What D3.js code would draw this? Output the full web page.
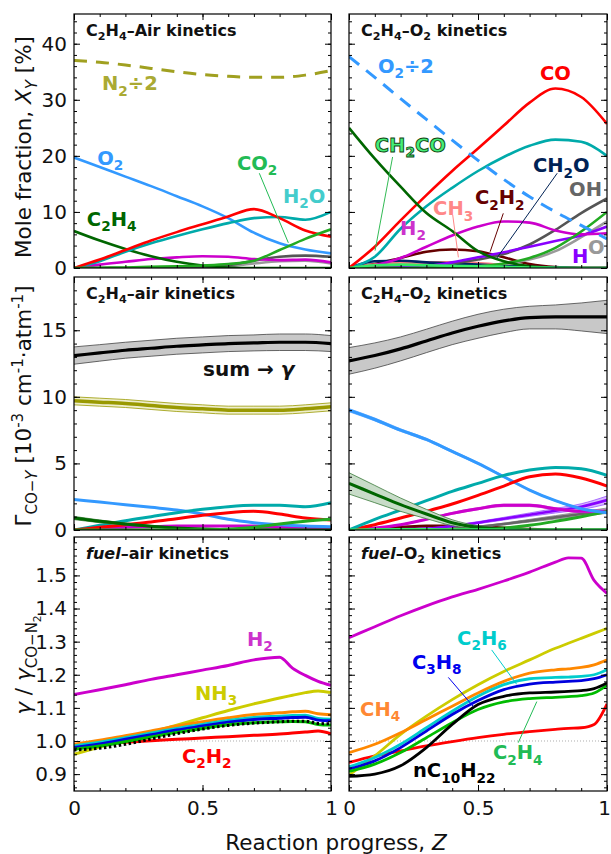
<!DOCTYPE html>
<html lang="en">
<head>
<meta charset="UTF-8">
<title>CO line broadening along reaction progress</title>
<script src="https://cdn.jsdelivr.net/npm/d3@7"></script>
<style>
  body { margin: 0; background: #fff; }
  svg { font-family: "DejaVu Sans", sans-serif; }
  text { white-space: pre; }
</style>
</head>
<body>
<script>
// reaction progress grids
const zGrid = [0, 0.1, 0.2, 0.3, 0.4, 0.5, 0.6, 0.7, 0.8, 0.9, 1];
const zRatio = [0, 0.1, 0.2, 0.3, 0.4, 0.5, 0.6, 0.7, 0.8, 0.85, 0.9, 0.95, 1];

// tick labels
const xTicks = [0, 0.5, 1];
const yTicksMole = [0, 10, 20, 30, 40];
const yTicksGamma = [0, 5, 10, 15];
const yTicksRatio = [0.9, 1.0, 1.1, 1.2, 1.3, 1.4, 1.5];

// mole fractions [%], C2H4-air
const airN2Half = [37.0, 36.7, 36.2, 35.6, 35.0, 34.5, 34.2, 34.0, 34.0, 34.4, 35.2];
const airO2 = [19.7, 18.0, 16.3, 14.6, 12.8, 11.0, 8.9, 6.3, 4.4, 3.3, 2.6];
const airCO = [0, 1.5, 3.2, 4.9, 6.4, 7.8, 9.2, 10.5, 8.9, 6.7, 5.6];
const airH2O = [0, 1.2, 2.9, 4.4, 5.7, 6.9, 8.0, 8.9, 9.1, 8.6, 10.0];
const airCO2 = [0, 0.05, 0.1, 0.2, 0.3, 0.45, 0.7, 1.3, 3.2, 5.2, 6.9];
const airC2H4 = [6.6, 4.9, 3.4, 2.1, 1.1, 0.45, 0.1, 0, 0, 0, 0];
const airH2 = [0, 0.6, 1.1, 1.6, 1.9, 2.1, 2.0, 1.6, 1.4, 1.5, 1.0];
const airOH = [0, 0, 0, 0.05, 0.1, 0.2, 0.5, 1.3, 2.0, 2.2, 2.0];
const airO = [0, 0, 0, 0, 0.05, 0.1, 0.3, 0.8, 1.2, 1.3, 0.8];

// mole fractions [%], C2H4-O2
const oxO2Half = [37.7, 34.0, 30.2, 26.5, 22.8, 19.2, 15.8, 12.7, 10.0, 7.6, 5.2];
const oxCO = [0, 3.8, 8.5, 13.0, 17.3, 21.3, 25.4, 29.5, 32.0, 30.5, 25.7];
const oxH2O = [0, 2.0, 7.0, 11.0, 14.3, 17.3, 19.8, 21.8, 22.9, 22.5, 20.0];
const oxC2H4 = [25.0, 19.5, 14.5, 9.8, 6.6, 3.0, 1.2, 0.3, 0, 0, 0];
const oxH2 = [0, 0.5, 1.8, 3.8, 5.8, 7.4, 8.3, 8.1, 6.7, 6.0, 6.2];
const oxC2H2 = [0, 0.7, 1.8, 2.9, 3.3, 3.0, 1.9, 0.7, 0.15, 0, 0];
const oxCH3 = [0, 0.6, 0.9, 1.0, 1.0, 0.9, 0.5, 0.2, 0.05, 0, 0];
const oxCH2O = [0, 1.2, 1.3, 1.0, 0.8, 0.6, 0.4, 0.2, 0.1, 0, 0];
const oxCH2CO = [0, 0.5, 0.6, 0.5, 0.4, 0.3, 0.2, 0.1, 0.05, 0, 0];
const oxOH = [0, 0.1, 0.2, 0.4, 0.8, 1.5, 2.5, 4.2, 6.8, 9.8, 12.4];
const oxH = [0, 0, 0.1, 0.3, 1.0, 1.9, 2.8, 3.8, 4.8, 5.8, 7.4];
const oxCO2 = [0, 0, 0, 0.05, 0.1, 0.3, 0.8, 1.8, 3.6, 6.5, 10.0];
const oxO = [0, 0, 0, 0.05, 0.1, 0.3, 0.7, 1.5, 3.0, 5.5, 8.3];

// broadening contributions [1e-3 cm-1 atm-1], C2H4-air
const gAirSum = [13.1, 13.3, 13.5, 13.65, 13.8, 13.9, 14.0, 14.05, 14.1, 14.1, 14.0];
const gAirSumErr = [0.65, 0.62, 0.6, 0.6, 0.6, 0.6, 0.6, 0.6, 0.62, 0.62, 0.6];
const gAirN2 = [9.7, 9.6, 9.5, 9.35, 9.2, 9.1, 9.0, 9.0, 9.0, 9.1, 9.25];
const gAirN2Err = [0.3, 0.3, 0.3, 0.3, 0.3, 0.3, 0.3, 0.3, 0.3, 0.3, 0.3];
const gAirO2 = [2.3, 2.1, 1.9, 1.7, 1.5, 1.2, 0.8, 0.55, 0.4, 0.3, 0.25];
const gAirH2O = [0, 0.35, 0.7, 1.0, 1.3, 1.55, 1.75, 1.85, 1.85, 1.75, 2.05];
const gAirCO = [0, 0.2, 0.4, 0.6, 0.85, 1.1, 1.3, 1.4, 1.2, 0.9, 0.75];
const gAirC2H4 = [0.9, 0.65, 0.45, 0.28, 0.15, 0.07, 0.02, 0, 0, 0, 0];
const gAirC2H4Err = [0.12, 0.1, 0.08, 0.06, 0.04, 0.02, 0.01, 0, 0, 0, 0];
const gAirCO2 = [0, 0, 0, 0, 0, 0.02, 0.05, 0.2, 0.45, 0.65, 0.8];
const gAirH2 = [0, 0.1, 0.2, 0.25, 0.3, 0.3, 0.3, 0.3, 0.25, 0.2, 0.15];
const gAirOH = [0, 0, 0, 0, 0, 0, 0.05, 0.1, 0.15, 0.2, 0.18];

// broadening contributions, C2H4-O2
const gOxSum = [12.7, 13.1, 13.6, 14.2, 14.8, 15.3, 15.7, 15.95, 16.0, 16.0, 16.0];
const gOxSumErr = [1.0, 0.95, 0.9, 0.88, 0.88, 0.9, 0.88, 0.85, 0.9, 1.05, 1.25];
const gOxO2 = [9.0, 8.3, 7.5, 6.8, 5.9, 5.0, 4.0, 3.0, 2.2, 1.6, 1.3];
const gOxO2Err = [0.12, 0.11, 0.1, 0.09, 0.08, 0.07, 0.06, 0.05, 0.04, 0.04, 0.04];
const gOxH2O = [0, 0.8, 1.5, 2.2, 2.9, 3.5, 4.1, 4.5, 4.7, 4.6, 4.1];
const gOxCO = [0, 0.4, 0.9, 1.4, 1.95, 2.6, 3.3, 4.0, 4.2, 3.9, 3.3];
const gOxC2H4 = [3.5, 2.7, 1.9, 1.2, 0.55, 0.2, 0.05, 0, 0, 0, 0];
const gOxC2H4Err = [0.8, 0.65, 0.5, 0.35, 0.22, 0.12, 0.05, 0.02, 0, 0, 0];
const gOxH2 = [0, 0.15, 0.4, 0.8, 1.25, 1.6, 1.85, 1.85, 1.6, 1.4, 1.4];
const gOxH2Err = [0, 0.01, 0.03, 0.05, 0.07, 0.08, 0.09, 0.09, 0.08, 0.08, 0.08];
const gOxH = [0, 0, 0.05, 0.1, 0.3, 0.55, 0.85, 1.15, 1.45, 1.75, 2.25];
const gOxHErr = [0, 0, 0.01, 0.02, 0.05, 0.08, 0.1, 0.13, 0.17, 0.22, 0.3];
const gOxOH = [0, 0, 0, 0.05, 0.1, 0.25, 0.45, 0.7, 0.95, 1.2, 1.45];
const gOxOHErr = [0, 0, 0, 0.01, 0.02, 0.04, 0.07, 0.1, 0.13, 0.17, 0.2];
const gOxCO2 = [0, 0, 0, 0, 0, 0.05, 0.15, 0.35, 0.65, 1.0, 1.4];
const gOxC2H2 = [0, 0.1, 0.2, 0.3, 0.3, 0.25, 0.15, 0.05, 0, 0, 0];
const gOxCH2CO = [0, 0.02, 0.03, 0.03, 0.02, 0.02, 0.01, 0, 0, 0, 0];

// gamma / gamma(CO-N2), fuel-air
const rAirH2 = [1.140, 1.155, 1.170, 1.186, 1.200, 1.214, 1.228, 1.245, 1.253, 1.220, 1.198, 1.180, 1.168];
const rAirNH3 = [0.960, 0.982, 1.004, 1.026, 1.048, 1.070, 1.092, 1.112, 1.130, 1.138, 1.146, 1.151, 1.146];
const rAirCH4 = [0.990, 1.002, 1.016, 1.030, 1.045, 1.058, 1.070, 1.080, 1.085, 1.088, 1.090, 1.082, 1.079];
const rAirC2H6 = [0.985, 0.996, 1.010, 1.024, 1.038, 1.050, 1.062, 1.071, 1.075, 1.077, 1.078, 1.068, 1.066];
const rAirC3H8 = [0.980, 0.991, 1.005, 1.019, 1.033, 1.045, 1.057, 1.065, 1.069, 1.071, 1.072, 1.063, 1.061];
const rAirC2H4 = [0.975, 0.985, 0.998, 1.012, 1.026, 1.038, 1.049, 1.055, 1.058, 1.059, 1.058, 1.050, 1.048];
const rAirC10 = [0.973, 0.978, 0.990, 1.006, 1.022, 1.036, 1.047, 1.054, 1.058, 1.060, 1.060, 1.053, 1.052];
const rAirC2H2 = [0.983, 0.990, 0.996, 1.001, 1.005, 1.009, 1.013, 1.017, 1.021, 1.024, 1.027, 1.030, 1.022];

// gamma / gamma(CO-N2), fuel-O2
const rOxH2 = [1.312, 1.345, 1.378, 1.408, 1.435, 1.458, 1.483, 1.510, 1.540, 1.553, 1.552, 1.485, 1.446];
const rOxNH3 = [0.897, 0.955, 1.020, 1.075, 1.125, 1.170, 1.210, 1.245, 1.280, 1.295, 1.310, 1.325, 1.340];
const rOxCH4 = [0.965, 0.990, 1.025, 1.065, 1.105, 1.145, 1.180, 1.205, 1.215, 1.218, 1.222, 1.230, 1.245];
const rOxC2H6 = [0.922, 0.950, 0.990, 1.040, 1.090, 1.135, 1.170, 1.188, 1.192, 1.193, 1.195, 1.200, 1.215];
const rOxC3H8 = [0.915, 0.940, 0.980, 1.030, 1.080, 1.122, 1.155, 1.172, 1.178, 1.180, 1.182, 1.188, 1.200];
const rOxC2H4 = [0.908, 0.930, 0.965, 1.010, 1.055, 1.095, 1.118, 1.128, 1.132, 1.134, 1.137, 1.145, 1.168];
const rOxC10 = [0.893, 0.900, 0.925, 0.980, 1.050, 1.110, 1.135, 1.145, 1.148, 1.150, 1.152, 1.158, 1.175];
const rOxC2H2 = [0.935, 0.955, 0.970, 0.985, 0.998, 1.010, 1.020, 1.028, 1.035, 1.038, 1.040, 1.050, 1.112];

const width = 611, height = 854;
const colX = [[74, 331], [349, 607]];
const rowY = [[14, 268], [277, 530], [537, 791]];
const rowDomain = [[0, 45.3], [0, 19.0], [0.849, 1.616]];
const rowMinor = [2, 1, 0.02];
const rowMajor = [yTicksMole, yTicksGamma, yTicksRatio];

const svg = d3.select("body").append("svg")
    .attr("width", width)
    .attr("height", height);

// text with _sub, ^{sup}, *{italic} markup
function segsOf(str) {
    const re = /_\{([^}]*)\}|_(\d+)|\^\{([^}]*)\}|\*\{([^}]*)\}|([^_\^*]+)/g;
    const out = [];
    let m;
    while ((m = re.exec(str))) {
        if (m[1] !== undefined) out.push({t: m[1], dy: 0.28, sz: 0.7});
        else if (m[2] !== undefined) out.push({t: m[2], dy: 0.28, sz: 0.7});
        else if (m[3] !== undefined) out.push({t: m[3], dy: -0.38, sz: 0.7});
        else if (m[4] !== undefined) out.push({t: m[4], it: true});
        else out.push({t: m[5]});
    }
    return out;
}

function drawSegs(textSel, segs, fs) {
    let shift = 0;
    segs.forEach(s => {
        const target = (s.dy || 0) * fs;
        const ts = textSel.append("tspan").attr("dy", target - shift).text(s.t);
        if (s.sz) ts.attr("font-size", fs * s.sz);
        if (s.it) ts.attr("font-style", "italic");
        shift = target;
    });
}

function makePanel(c, r) {
    const [x0, x1] = colX[c], [y0, y1] = rowY[r];
    const x = d3.scaleLinear().domain([0, 1]).range([x0, x1]);
    const y = d3.scaleLinear().domain(rowDomain[r]).range([y1, y0]);
    const id = "clip" + c + r;
    svg.append("clipPath").attr("id", id)
        .append("rect").attr("x", x0).attr("y", y0).attr("width", x1 - x0).attr("height", y1 - y0);
    const plot = svg.append("g").attr("clip-path", `url(#${id})`);
    const over = svg.append("g");
    return {x, y, plot, over, c, r, x0, x1, y0, y1};
}

function frame(p) {
    const dom = rowDomain[p.r];
    const minor = d3.range(Math.ceil(dom[0] / rowMinor[p.r]) * rowMinor[p.r], dom[1], rowMinor[p.r]);
    const xMinor = d3.range(0, 1.0001, 0.1);
    const sides = [
        [d3.axisBottom(p.x), xMinor, xTicks, `translate(0,${p.y1})`],
        [d3.axisTop(p.x), xMinor, xTicks, `translate(0,${p.y0})`],
        [d3.axisLeft(p.y), minor, rowMajor[p.r], `translate(${p.x0},0)`],
        [d3.axisRight(p.y), minor, rowMajor[p.r], `translate(${p.x1},0)`]
    ];
    sides.forEach(([ax, mn, mj, tr]) => {
        p.over.append("g").attr("transform", tr)
            .call(ax.tickValues(mn).tickSize(-3).tickFormat(""))
            .call(g => g.select(".domain").remove());
        p.over.append("g").attr("transform", tr)
            .call(ax.tickValues(mj).tickSize(-6).tickFormat(""))
            .call(g => g.select(".domain").remove());
    });
    p.over.selectAll(".tick line").attr("stroke", "#000").attr("stroke-width", 1);
    p.over.append("rect")
        .attr("x", p.x0).attr("y", p.y0)
        .attr("width", p.x1 - p.x0).attr("height", p.y1 - p.y0)
        .attr("fill", "none").attr("stroke", "#000").attr("stroke-width", 1.2);

    if (p.c === 0) {
        const fmt = p.r === 2 ? (d => d.toFixed(1)) : (d => String(d));
        p.over.append("g").attr("transform", `translate(${p.x0},0)`)
            .call(d3.axisLeft(p.y).tickValues(rowMajor[p.r]).tickSize(0).tickPadding(7).tickFormat(fmt))
            .call(g => g.select(".domain").remove())
            .call(g => g.selectAll("text").attr("font-family", "DejaVu Sans").attr("font-size", 20).attr("fill", "#111"));
    }
    if (p.r === 2) {
        p.over.append("g").attr("transform", `translate(0,${p.y1})`)
            .call(d3.axisBottom(p.x).tickValues(xTicks).tickSize(0).tickPadding(10).tickFormat(d => String(d)))
            .call(g => g.select(".domain").remove())
            .call(g => g.selectAll("text").attr("font-family", "DejaVu Sans").attr("font-size", 20).attr("fill", "#111"))
            .call(g => g.selectAll("text").filter(d => p.c === 1 && d === 1).attr("dx", -3));
    }
}

function curve(p, zs, vs, color, w, dash) {
    const gen = d3.line().x((d, i) => p.x(zs[i])).y(d => p.y(d)).curve(d3.curveMonotoneX);
    const path = p.plot.append("path").attr("d", gen(vs))
        .attr("fill", "none").attr("stroke", color).attr("stroke-width", w || 2.6)
        .attr("stroke-linejoin", "round");
    if (dash) path.attr("stroke-dasharray", dash);
}

function band(p, zs, vs, es, fill, edge, center, w) {
    const area = d3.area().x((d, i) => p.x(zs[i]))
        .y0((d, i) => p.y(vs[i] - es[i])).y1((d, i) => p.y(vs[i] + es[i]))
        .curve(d3.curveMonotoneX);
    p.plot.append("path").attr("d", area(vs)).attr("fill", fill);
    curve(p, zs, vs.map((v, i) => v + es[i]), edge, 0.8);
    curve(p, zs, vs.map((v, i) => v - es[i]), edge, 0.8);
    curve(p, zs, vs, center, w || 3);
}

function label(p, z, v, str, color, opts) {
    opts = opts || {};
    const fs = opts.fs || 19.5;
    const t = p.over.append("text")
        .attr("x", p.x(z)).attr("y", p.y(v))
        .attr("font-size", fs).attr("font-weight", "bold")
        .attr("fill", color);
    if (opts.stroke) t.attr("stroke", opts.stroke).attr("stroke-width", 0.9);
    drawSegs(t, segsOf(str), fs);
}

function pointer(p, a, b, color) {
    p.over.append("line")
        .attr("x1", p.x(a[0])).attr("y1", p.y(a[1]))
        .attr("x2", p.x(b[0])).attr("y2", p.y(b[1]))
        .attr("stroke", color).attr("stroke-width", 1);
}

function title(p, str) {
    const t = p.over.append("text")
        .attr("x", p.x0 + 12).attr("y", p.y0 + 22)
        .attr("font-size", 16).attr("font-weight", "bold").attr("fill", "#111");
    drawSegs(t, segsOf(str), 16);
}

// --- panel A: C2H4-air mole fractions
const pA = makePanel(0, 0);
curve(pA, zGrid, airO, "#9a9a9a");
curve(pA, zGrid, airOH, "#555555");
curve(pA, zGrid, airH2, "#cc00cc");
curve(pA, zGrid, airC2H4, "#006600");
curve(pA, zGrid, airO2, "#3399ff");
curve(pA, zGrid, airH2O, "#00aaaa");
curve(pA, zGrid, airCO, "#ff0000");
curve(pA, zGrid, airCO2, "#22aa22");
curve(pA, zGrid, airN2Half, "#a0a020", 3, "13,9");
frame(pA);
title(pA, "C_2H_4–Air kinetics");
label(pA, 0.109, 31.7, "N_2÷2", "#aaaa33");
label(pA, 0.09, 18.4, "O_2", "#3399ff");
label(pA, 0.634, 17.5, "CO_2", "#22bb55");
label(pA, 0.813, 11.6, "H_2O", "#44cccc");
label(pA, 0.05, 7.5, "C_2H_4", "#006600");
pointer(pA, [0.721, 16.9], [0.834, 4.5], "#22bb55");

// --- panel B: C2H4-O2 mole fractions
const pB = makePanel(1, 0);
curve(pB, zGrid, oxC2H2, "#660000");
curve(pB, zGrid, oxCH3, "#ff8080");
curve(pB, zGrid, oxCH2O, "#002266");
curve(pB, zGrid, oxO, "#9a9a9a");
curve(pB, zGrid, oxOH, "#555555");
curve(pB, zGrid, oxH, "#8800ff");
curve(pB, zGrid, oxH2, "#cc00cc");
curve(pB, zGrid, oxCO2, "#22aa22");
curve(pB, zGrid, oxH2O, "#00aaaa");
curve(pB, zGrid, oxCO, "#ff0000");
curve(pB, zGrid, oxC2H4, "#006600");
curve(pB, zGrid, oxCH2CO, "#33ee66");
curve(pB, zGrid, oxO2Half, "#3399ff", 3, "13,9");
frame(pB);
title(pB, "C_2H_4–O_2 kinetics");
label(pB, 0.112, 34.8, "O_2÷2", "#3399ff");
label(pB, 0.74, 33.5, "CO", "#ff0000");
label(pB, 0.10, 20.7, "CH_2CO", "#44ee77", {stroke: "#114411"});
label(pB, 0.713, 17.1, "CH_2O", "#002255");
label(pB, 0.853, 12.8, "OH", "#666666");
label(pB, 0.488, 11.4, "C_2H_2", "#660000");
label(pB, 0.326, 9.4, "CH_3", "#ff8888");
label(pB, 0.198, 5.9, "H_2", "#cc33cc");
label(pB, 0.864, 0.9, "H", "#8800ff");
label(pB, 0.926, 2.5, "O", "#999999");
pointer(pB, [0.169, 19.8], [0.101, 3.1], "#33bb55");
pointer(pB, [0.807, 16.9], [0.572, 1.7], "#002255");
pointer(pB, [0.598, 9.75], [0.547, 2.9], "#660000");
pointer(pB, [0.402, 9.45], [0.424, 1.9], "#ff8888");

// --- panel C: C2H4-air broadening
const pC = makePanel(0, 1);
band(pC, zGrid, gAirSum, gAirSumErr, "#c8c8c8", "#444444", "#000000", 3.2);
band(pC, zGrid, gAirN2, gAirN2Err, "#eeeecc", "#999900", "#999900", 3.5);
curve(pC, zGrid, gAirOH, "#777777", 3);
curve(pC, zGrid, gAirH2, "#cc00cc", 3);
curve(pC, zGrid, gAirO2, "#3399ff", 3);
curve(pC, zGrid, gAirH2O, "#00aaaa", 3);
curve(pC, zGrid, gAirCO, "#ff0000", 3);
band(pC, zGrid, gAirC2H4, gAirC2H4Err, "#a8c8a8", "#337733", "#006600", 3);
curve(pC, zGrid, gAirCO2, "#22aa22", 3);
frame(pC);
title(pC, "C_2H_4–air kinetics");
label(pC, 0.502, 11.6, "sum → *{γ}", "#111111", {fs: 20});

// --- panel D: C2H4-O2 broadening
const pD = makePanel(1, 1);
band(pD, zGrid, gOxSum, gOxSumErr, "#c8c8c8", "#444444", "#000000", 3.2);
curve(pD, zGrid, gOxC2H2, "#660000", 3);
band(pD, zGrid, gOxOH, gOxOHErr, "#bbbbbb", "#888888", "#666666", 2.6);
band(pD, zGrid, gOxH, gOxHErr, "#d8b8ff", "#9955ff", "#8800ff", 2.6);
band(pD, zGrid, gOxH2, gOxH2Err, "#eeaaee", "#cc55cc", "#cc00cc", 3);
curve(pD, zGrid, gOxCO2, "#22aa22", 3);
band(pD, zGrid, gOxO2, gOxO2Err, "#aad4ff", "#66aaff", "#3399ff", 3);
curve(pD, zGrid, gOxCO, "#ff0000", 3);
curve(pD, zGrid, gOxH2O, "#00aaaa", 3);
band(pD, zGrid, gOxC2H4, gOxC2H4Err, "#c8dcc8", "#3a7a3a", "#006600", 3);
curve(pD, zGrid, gOxCH2CO, "#33ee66", 3);
frame(pD);
title(pD, "C_2H_4–O_2 kinetics");

// --- panel E: fuel-air ratio
const pE = makePanel(0, 2);
pE.plot.append("line").attr("x1", pE.x(0)).attr("x2", pE.x(1))
    .attr("y1", pE.y(1)).attr("y2", pE.y(1))
    .attr("stroke", "#999").attr("stroke-width", 0.8).attr("stroke-dasharray", "1,2");
curve(pE, zRatio, rAirC2H2, "#ff0000", 3);
curve(pE, zRatio, rAirNH3, "#cccc00", 3);
curve(pE, zRatio, rAirCH4, "#ff8800", 3);
curve(pE, zRatio, rAirC2H6, "#00cccc", 3);
curve(pE, zRatio, rAirC3H8, "#0000dd", 3);
curve(pE, zRatio, rAirC2H4, "#00bb00", 3);
curve(pE, zRatio, rAirC10, "#000000", 3, "2.5,2.5");
curve(pE, zRatio, rAirH2, "#cc00cc", 3);
frame(pE);
title(pE, "*{fuel}–air kinetics");
label(pE, 0.673, 1.287, "H_2", "#cc33cc");
label(pE, 0.471, 1.124, "NH_3", "#cccc00");
label(pE, 0.42, 0.935, "C_2H_2", "#ff0000");

// --- panel F: fuel-O2 ratio
const pF = makePanel(1, 2);
pF.plot.append("line").attr("x1", pF.x(0)).attr("x2", pF.x(1))
    .attr("y1", pF.y(1)).attr("y2", pF.y(1))
    .attr("stroke", "#999").attr("stroke-width", 0.8).attr("stroke-dasharray", "1,2");
curve(pF, zRatio, rOxC2H2, "#ff0000", 2.8);
curve(pF, zRatio, rOxNH3, "#cccc00", 2.8);
curve(pF, zRatio, rOxCH4, "#ff8800", 2.8);
curve(pF, zRatio, rOxC2H6, "#00cccc", 2.8);
curve(pF, zRatio, rOxC3H8, "#0000dd", 2.8);
curve(pF, zRatio, rOxC2H4, "#00bb00", 2.8);
curve(pF, zRatio, rOxC10, "#000000", 2.8);
curve(pF, zRatio, rOxH2, "#cc00cc", 2.8);
frame(pF);
title(pF, "*{fuel}–O_2 kinetics");
label(pF, 0.419, 1.29, "C_2H_6", "#00cccc");
label(pF, 0.244, 1.218, "C_3H_8", "#0000ee");
label(pF, 0.043, 1.076, "CH_4", "#ff8833");
label(pF, 0.558, 0.945, "C_2H_4", "#22bb55");
label(pF, 0.248, 0.89, "nC_{10}H_{22}", "#000000");
pointer(pF, [0.553, 1.275], [0.65, 1.171], "#00cccc");
pointer(pF, [0.385, 1.192], [0.482, 1.104], "#0000ee");
pointer(pF, [0.656, 0.995], [0.728, 1.119], "#22bb55");

// --- axis titles
function axisTitle(x, y, segs, rotate) {
    const t = svg.append("text")
        .attr("transform", `translate(${x},${y})` + (rotate ? " rotate(-90)" : ""))
        .attr("text-anchor", "middle").attr("font-size", 21.5).attr("fill", "#111");
    drawSegs(t, segs, 21.5);
}
axisTitle(31, 147, [{t: "Mole fraction, "}, {t: "X", it: true}, {t: "Y", it: true, dy: 0.28, sz: 0.7}, {t: " [%]"}], true);
axisTitle(31, 406, [{t: "Γ"}, {t: "CO−", dy: 0.28, sz: 0.7}, {t: "Y", it: true, dy: 0.28, sz: 0.7},
    {t: " [10"}, {t: "-3", dy: -0.38, sz: 0.7}, {t: " cm"}, {t: "-1", dy: -0.38, sz: 0.7},
    {t: "·atm"}, {t: "-1", dy: -0.38, sz: 0.7}, {t: "]"}], true);
axisTitle(31, 665, [{t: "γ", it: true}, {t: " / "}, {t: "γ", it: true}, {t: "CO−N", dy: 0.28, sz: 0.7},
    {t: "2", dy: 0.45, sz: 0.5}], true);
axisTitle(336, 850, [{t: "Reaction progress, "}, {t: "Z", it: true}], false);
</script>
</body>
</html>
